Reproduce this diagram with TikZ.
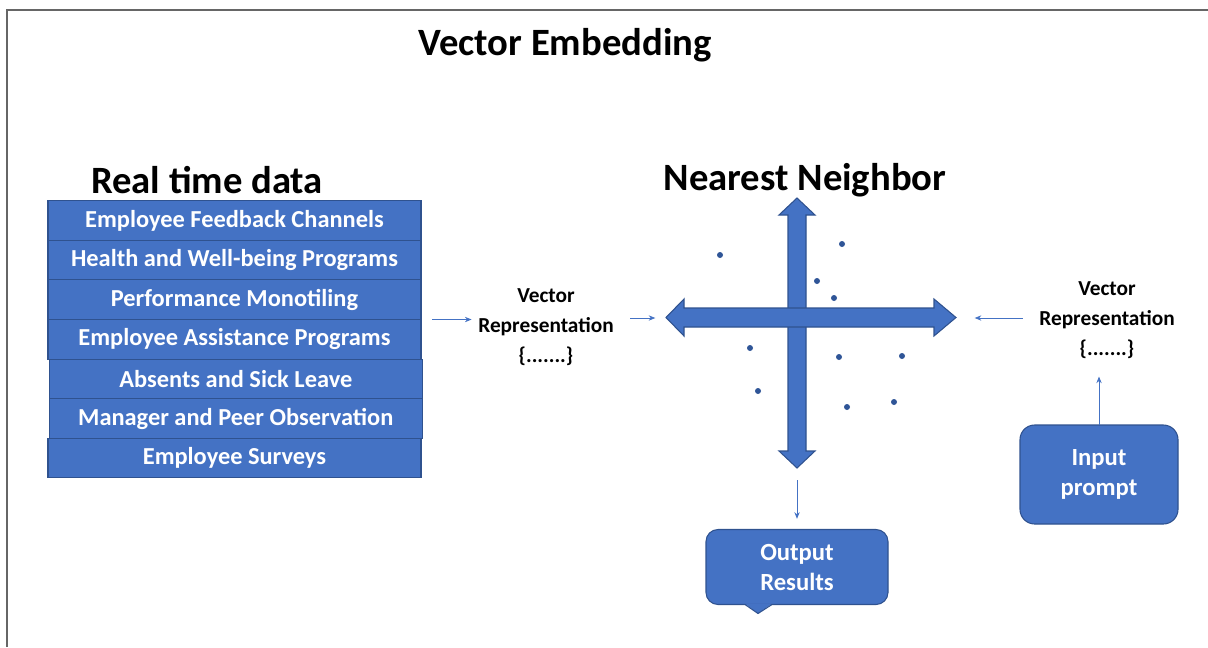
\documentclass[tikz,border=0pt]{standalone}
\usepackage{fontspec}
\setmainfont{Carlito}
\usetikzlibrary{positioning}
\usetikzlibrary{arrows.meta}
\definecolor{office}{HTML}{4472C4}
\definecolor{officedark}{HTML}{2F528F}
\definecolor{dotblue}{HTML}{2F5597}
\tikzset{row/.style={draw=officedark,fill=office,text=white,font=\fontsize{18.3}{20}\selectfont\bfseries,minimum width=279.75pt,minimum height=29.7pt,inner sep=0pt,outer sep=0pt,line width=0.8pt}}
\tikzset{hd/.style={font=\fontsize{29}{32}\selectfont\bfseries}}
\tikzset{vr/.style={align=center,font=\fontsize{16}{22.5}\selectfont\bfseries}}
\tikzset{bx/.style={draw=officedark,fill=office,text=white,align=center,font=\fontsize{18.5}{22.5}\selectfont\bfseries,line width=0.8pt,inner sep=0pt,outer sep=0pt}}
\tikzset{ln/.style={office,line width=0.6pt,-{Stealth[length=5pt,width=4pt]}}}
\tikzset{pt/.style={circle,fill=dotblue,inner sep=0pt,minimum size=4.5pt}}

\begin{document}
\begin{tikzpicture}[x=0.75pt,y=-0.75pt]
\useasboundingbox (0,0) rectangle (1208,647);
\draw[black!60,line width=1.5pt] (7,647) -- (7,9.5) -- (1208,9.5);

% headings
\node[hd] (T) at (565,45) {Vector Embedding};
\node[hd] (R) at (207,180) {Real time data};
\node[hd] (N) at (805,180) {Nearest Neighbor};

% data sources
\node[row] (E1) at (234.5,220.5) {Employee Feedback Channels};
\node[row,below=0pt of E1] (E2) {Health and Well-being Programs};
\node[row,below=0pt of E2] (E3) {Performance Monotiling};
\node[row,below=0pt of E3] (E4) {Employee Assistance Programs};
\node[row,below=0pt of E4,xshift=1pt] (E5) {Absents and Sick Leave};
\node[row,below=0pt of E5] (E6) {Manager and Peer Observation};
\node[row,below=0pt of E6,xshift=-1pt] (E7) {Employee Surveys};

\node[vr] (V1) at (546,327) {Vector\\Representation\\\{.......\}};
\node[vr] (V2) at (1107,320) {Vector\\Representation\\\{.......\}};

% axes
\begin{scope}[fill=office,draw=officedark,line width=0.8pt]
\filldraw (788,215) -- (779,215) -- (797,198) -- (815,215) -- (806,215) -- (806,451) -- (815,451) -- (797,468) -- (779,451) -- (788,451) -- cycle;
\filldraw (684,308) -- (684,299) -- (666,317.5) -- (684,336) -- (684,327) -- (934,327) -- (934,336) -- (956,317.5) -- (934,299) -- (934,308) -- cycle;
\end{scope}
\coordinate (HL) at (666,318);
\coordinate (HR) at (956,318);
\coordinate (VB) at (797,468);

\foreach \x/\y [count=\i] in {720/255,842/244,817/281,834/298,750/348,839/357,902/356,758/391,847/407,894/402}
  \node[pt] (D\i) at (\x,\y) {};

% prompt and results
\node[bx,minimum width=118.5pt,minimum height=74.25pt,rounded corners=11pt] (I) at (1099,474.5) {Input\\prompt};
\node[bx,minimum width=136.5pt,minimum height=56.25pt,rounded corners=9pt] (O) at (797,567) {Output\\Results};
\fill[office] ([xshift=-39pt,yshift=0.6pt]O.south) -- ([xshift=-29.25pt,yshift=-6.75pt]O.south) -- ([xshift=-18.75pt,yshift=0.6pt]O.south) -- cycle;
\draw[officedark,line width=0.8pt] ([xshift=-39pt]O.south) -- ([xshift=-29.25pt,yshift=-6.75pt]O.south) -- ([xshift=-18.75pt]O.south);

% connectors
\draw[ln,shorten <=8.25pt] (E3.south east) -- ([xshift=-1.5pt]V1.west |- E3.south east);
\draw[ln,shorten <=9pt,shorten >=8pt] (V1.east |- HL) -- (HL);
\draw[ln,shorten <=9pt,shorten >=14pt] (V2.west |- HR) -- (HR);
\draw[ln,shorten >=10pt] (I.north) -- (V2.south -| I.north);
\draw[ln,shorten <=9pt,shorten >=8pt] (VB) -- (O.north);
\end{tikzpicture}
\end{document}
